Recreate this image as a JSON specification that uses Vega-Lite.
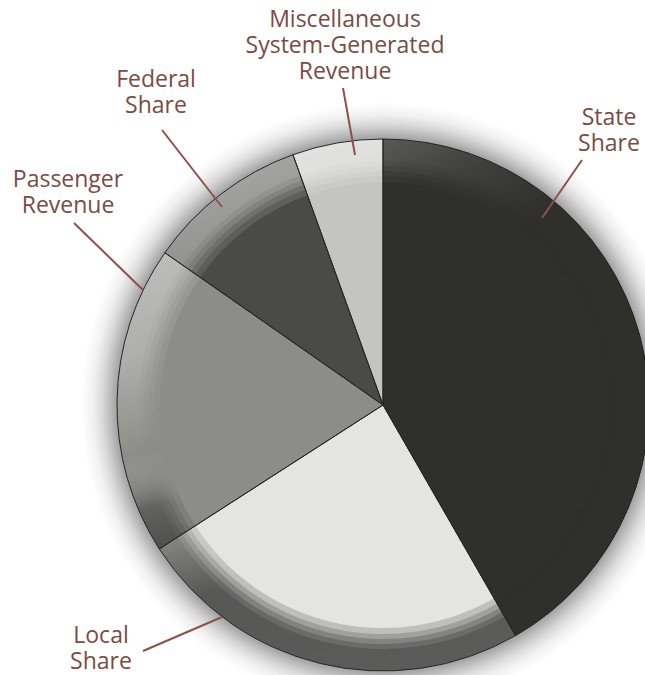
{
  "$schema": "https://vega.github.io/schema/vega-lite/v6.json",
  "width": 645,
  "height": 675,
  "autosize": {"type": "none"},
  "padding": 0,
  "background": "white",
  "config": {"view": {"stroke": null}},
  "datasets": {
    "slices": [
      {"name": "State Share", "value": 41.7, "order": 1},
      {"name": "Local Share", "value": 24.2, "order": 2},
      {"name": "Passenger Revenue", "value": 18.8, "order": 3},
      {"name": "Federal Share", "value": 9.8, "order": 4},
      {"name": "Miscellaneous System-Generated Revenue", "value": 5.5, "order": 5}
    ],
    "labels": [
      {"slice": "Miscellaneous System-Generated Revenue", "text": "Miscellaneous\nSystem-Generated\nRevenue", "x": 345, "y": 27},
      {"slice": "Federal Share", "text": "Federal\nShare", "x": 156, "y": 87},
      {"slice": "Passenger Revenue", "text": "Passenger\nRevenue", "x": 68, "y": 187},
      {"slice": "State Share", "text": "State\nShare", "x": 609, "y": 125},
      {"slice": "Local Share", "text": "Local\nShare", "x": 101, "y": 643}
    ],
    "leaders": [
      {"slice": "Miscellaneous System-Generated Revenue", "x": 343, "y": 88, "x2": 355, "y2": 155},
      {"slice": "Federal Share", "x": 162, "y": 130, "x2": 222, "y2": 207},
      {"slice": "Passenger Revenue", "x": 74, "y": 223, "x2": 143, "y2": 290},
      {"slice": "State Share", "x": 582, "y": 160, "x2": 542, "y2": 218},
      {"slice": "Local Share", "x": 143, "y": 651, "x2": 222, "y2": 617}
    ],
    "disc": [{"part": "whole"}]
  },
  "layer": [
    {
      "data": {"name": "disc"},
      "mark": {
        "type": "arc", "theta": 0, "theta2": 6.2832, "radius": 302,
        "fill": {
          "gradient": "radial", "x1": 0.5, "y1": 0.5, "r1": 0, "x2": 0.5, "y2": 0.5, "r2": 0.5,
          "stops": [
            {"offset": 0, "color": "rgba(0,0,0,0.4)"},
            {"offset": 0.875, "color": "rgba(0,0,0,0.4)"},
            {"offset": 0.9, "color": "rgba(0,0,0,0.28)"},
            {"offset": 0.93, "color": "rgba(0,0,0,0.15)"},
            {"offset": 0.96, "color": "rgba(0,0,0,0.06)"},
            {"offset": 1, "color": "rgba(0,0,0,0)"}
          ]
        }
      },
      "encoding": {
        "x": {"datum": 383, "type": "quantitative", "scale": {"domain": [0, 645], "nice": false, "zero": false}, "axis": null},
        "y": {"datum": 405, "type": "quantitative", "scale": {"domain": [0, 675], "nice": false, "zero": false, "reverse": true}, "axis": null}
      }
    },
    {
      "data": {"name": "slices"},
      "mark": {"type": "arc", "radius": 266},
      "encoding": {
        "x": {"datum": 383, "type": "quantitative", "scale": {"domain": [0, 645], "nice": false, "zero": false}, "axis": null},
        "y": {"datum": 405, "type": "quantitative", "scale": {"domain": [0, 675], "nice": false, "zero": false, "reverse": true}, "axis": null},
        "theta": {"field": "value", "type": "quantitative", "stack": true},
        "order": {"field": "order", "type": "quantitative"},
        "color": {
          "field": "name", "type": "nominal", "legend": null,
          "scale": {
            "domain": ["State Share", "Local Share", "Passenger Revenue", "Federal Share", "Miscellaneous System-Generated Revenue"],
            "range": ["#2f302c", "#e4e4e2", "#8c8d89", "#4a4b48", "#c4c5c1"]
          }
        }
      }
    },
    {
      "data": {"name": "disc"},
      "mark": {
        "type": "arc", "theta": 0, "theta2": 6.2832, "radius": 266,
        "fill": {
          "gradient": "linear", "x1": 0.3, "y1": 0, "x2": 0.6, "y2": 1,
          "stops": [
            {"offset": 0, "color": "rgba(255,255,255,0.52)"},
            {"offset": 0.3, "color": "rgba(255,255,255,0.3)"},
            {"offset": 0.47, "color": "rgba(255,255,255,0)"},
            {"offset": 0.57, "color": "rgba(0,0,0,0.3)"},
            {"offset": 0.75, "color": "rgba(0,0,0,0.62)"},
            {"offset": 1, "color": "rgba(0,0,0,0.6)"}
          ]
        }
      },
      "encoding": {
        "x": {"datum": 383, "type": "quantitative", "scale": {"domain": [0, 645], "nice": false, "zero": false}, "axis": null},
        "y": {"datum": 405, "type": "quantitative", "scale": {"domain": [0, 675], "nice": false, "zero": false, "reverse": true}, "axis": null}
      }
    },
    {
      "data": {"name": "slices"},
      "mark": {"type": "arc", "radius": 266},
      "encoding": {
        "x": {"datum": 383, "type": "quantitative", "scale": {"domain": [0, 645], "nice": false, "zero": false}, "axis": null},
        "y": {"datum": 405, "type": "quantitative", "scale": {"domain": [0, 675], "nice": false, "zero": false, "reverse": true}, "axis": null},
        "theta": {"field": "value", "type": "quantitative", "stack": true},
        "order": {"field": "order", "type": "quantitative"},
        "color": {"field": "name", "type": "nominal", "legend": null},
        "fillOpacity": {"condition": {"test": "datum.name === 'State Share'", "value": 1}, "value": 0}
      }
    },
    {
      "data": {"name": "slices"},
      "mark": {
        "type": "arc", "radius": 266,
        "fill": {
          "gradient": "linear", "x1": 0, "y1": 0, "x2": 0.3, "y2": 1,
          "stops": [
            {"offset": 0, "color": "rgba(255,255,255,0.2)"},
            {"offset": 0.15, "color": "rgba(255,255,255,0.08)"},
            {"offset": 0.3, "color": "rgba(255,255,255,0)"},
            {"offset": 1, "color": "rgba(255,255,255,0)"}
          ]
        }
      },
      "encoding": {
        "x": {"datum": 383, "type": "quantitative", "scale": {"domain": [0, 645], "nice": false, "zero": false}, "axis": null},
        "y": {"datum": 405, "type": "quantitative", "scale": {"domain": [0, 675], "nice": false, "zero": false, "reverse": true}, "axis": null},
        "theta": {"field": "value", "type": "quantitative", "stack": true},
        "order": {"field": "order", "type": "quantitative"},
        "fillOpacity": {"condition": {"test": "datum.name === 'State Share'", "value": 1}, "value": 0}
      }
    },
    {
      "data": {"name": "slices"},
      "mark": {"type": "arc", "radius": 244, "opacity": 0.12},
      "encoding": {
        "x": {"datum": 383, "type": "quantitative", "scale": {"domain": [0, 645], "nice": false, "zero": false}, "axis": null},
        "y": {"datum": 405, "type": "quantitative", "scale": {"domain": [0, 675], "nice": false, "zero": false, "reverse": true}, "axis": null},
        "theta": {"field": "value", "type": "quantitative", "stack": true},
        "order": {"field": "order", "type": "quantitative"},
        "color": {"field": "name", "type": "nominal", "legend": null}
      }
    },
    {
      "data": {"name": "slices"},
      "mark": {"type": "arc", "radius": 239, "opacity": 0.2},
      "encoding": {
        "x": {"datum": 383, "type": "quantitative", "scale": {"domain": [0, 645], "nice": false, "zero": false}, "axis": null},
        "y": {"datum": 405, "type": "quantitative", "scale": {"domain": [0, 675], "nice": false, "zero": false, "reverse": true}, "axis": null},
        "theta": {"field": "value", "type": "quantitative", "stack": true},
        "order": {"field": "order", "type": "quantitative"},
        "color": {"field": "name", "type": "nominal", "legend": null}
      }
    },
    {
      "data": {"name": "slices"},
      "mark": {"type": "arc", "radius": 234, "opacity": 0.3},
      "encoding": {
        "x": {"datum": 383, "type": "quantitative", "scale": {"domain": [0, 645], "nice": false, "zero": false}, "axis": null},
        "y": {"datum": 405, "type": "quantitative", "scale": {"domain": [0, 675], "nice": false, "zero": false, "reverse": true}, "axis": null},
        "theta": {"field": "value", "type": "quantitative", "stack": true},
        "order": {"field": "order", "type": "quantitative"},
        "color": {"field": "name", "type": "nominal", "legend": null}
      }
    },
    {
      "data": {"name": "slices"},
      "mark": {"type": "arc", "radius": 229, "opacity": 0.45},
      "encoding": {
        "x": {"datum": 383, "type": "quantitative", "scale": {"domain": [0, 645], "nice": false, "zero": false}, "axis": null},
        "y": {"datum": 405, "type": "quantitative", "scale": {"domain": [0, 675], "nice": false, "zero": false, "reverse": true}, "axis": null},
        "theta": {"field": "value", "type": "quantitative", "stack": true},
        "order": {"field": "order", "type": "quantitative"},
        "color": {"field": "name", "type": "nominal", "legend": null}
      }
    },
    {
      "data": {"name": "slices"},
      "mark": {"type": "arc", "radius": 223},
      "encoding": {
        "x": {"datum": 383, "type": "quantitative", "scale": {"domain": [0, 645], "nice": false, "zero": false}, "axis": null},
        "y": {"datum": 405, "type": "quantitative", "scale": {"domain": [0, 675], "nice": false, "zero": false, "reverse": true}, "axis": null},
        "theta": {"field": "value", "type": "quantitative", "stack": true},
        "order": {"field": "order", "type": "quantitative"},
        "color": {"field": "name", "type": "nominal", "legend": null}
      }
    },
    {
      "data": {"name": "slices"},
      "mark": {"type": "arc", "radius": 266, "fill": null, "filled": false, "stroke": "#262626", "strokeWidth": 1},
      "encoding": {
        "x": {"datum": 383, "type": "quantitative", "scale": {"domain": [0, 645], "nice": false, "zero": false}, "axis": null},
        "y": {"datum": 405, "type": "quantitative", "scale": {"domain": [0, 675], "nice": false, "zero": false, "reverse": true}, "axis": null},
        "theta": {"field": "value", "type": "quantitative", "stack": true},
        "order": {"field": "order", "type": "quantitative"}
      }
    },
    {
      "data": {"name": "leaders"},
      "mark": {"type": "rule", "stroke": "#8b5249", "strokeWidth": 2},
      "encoding": {
        "x": {"field": "x", "type": "quantitative", "scale": {"domain": [0, 645], "nice": false, "zero": false}, "axis": null},
        "y": {"field": "y", "type": "quantitative", "scale": {"domain": [0, 675], "nice": false, "zero": false, "reverse": true}, "axis": null},
        "x2": {"field": "x2"},
        "y2": {"field": "y2"}
      }
    },
    {
      "data": {"name": "labels"},
      "mark": {"type": "text", "font": "Open Sans", "fontSize": 23, "lineHeight": 26, "lineBreak": "\n", "fill": "#7b4b44", "align": "center", "baseline": "alphabetic"},
      "encoding": {
        "x": {"field": "x", "type": "quantitative", "scale": {"domain": [0, 645], "nice": false, "zero": false}, "axis": null},
        "y": {"field": "y", "type": "quantitative", "scale": {"domain": [0, 675], "nice": false, "zero": false, "reverse": true}, "axis": null},
        "text": {"field": "text", "type": "nominal"}
      }
    }
  ]
}
